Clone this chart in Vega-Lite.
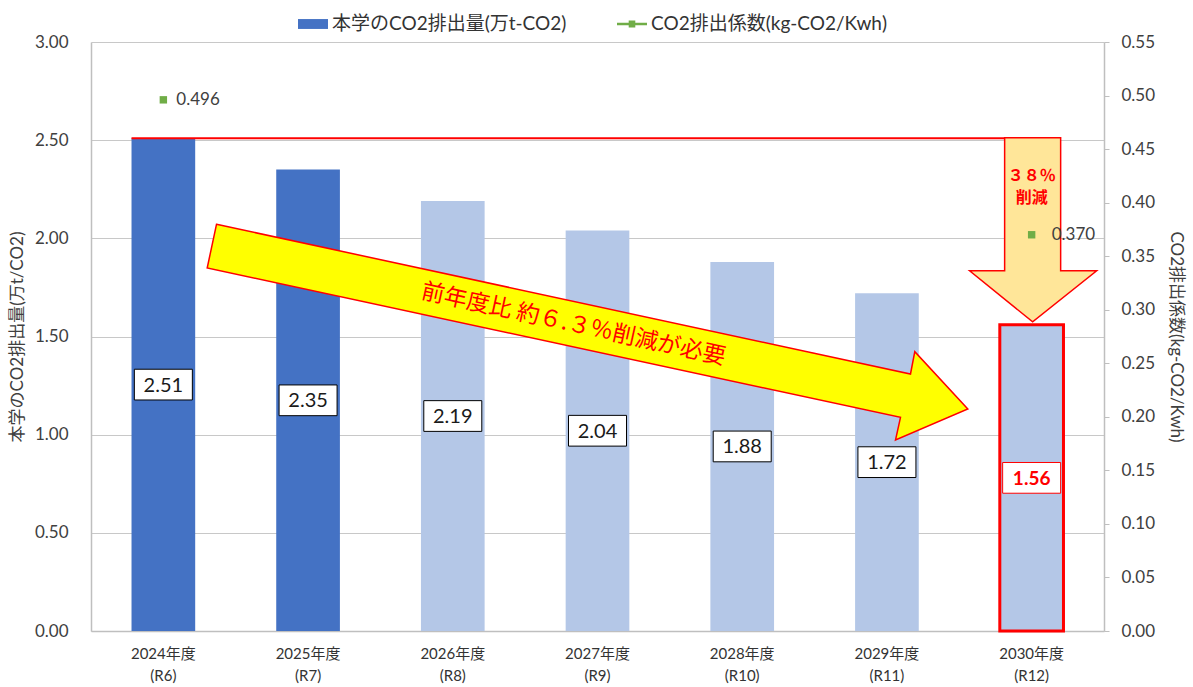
{
  "$schema": "https://vega.github.io/schema/vega-lite/v6.json",
  "width": 1013,
  "height": 589,
  "autosize": {"type": "none"},
  "padding": {"left": 91, "top": 42, "right": 89, "bottom": 56},
  "background": "white",
  "config": {
    "view": {"stroke": null},
    "font": "Lato, Noto Sans CJK JP",
    "axis": {
      "labelFont": "Lato, Noto Sans CJK JP",
      "titleFont": "Lato, Noto Sans CJK JP",
      "labelColor": "#404040",
      "titleColor": "#404040",
      "titleFontWeight": "normal",
      "labelFontSize": 17,
      "titleFontSize": 17
    },
    "legend": {"labelFont": "Lato, Noto Sans CJK JP"}
  },
  "datasets": {
    "bars": [
      {"year": "2024年度|(R6)", "emission": 2.51, "status": "実績"},
      {"year": "2025年度|(R7)", "emission": 2.35, "status": "実績"},
      {"year": "2026年度|(R8)", "emission": 2.19, "status": "計画"},
      {"year": "2027年度|(R9)", "emission": 2.04, "status": "計画"},
      {"year": "2028年度|(R10)", "emission": 1.88, "status": "計画"},
      {"year": "2029年度|(R11)", "emission": 1.72, "status": "計画"},
      {"year": "2030年度|(R12)", "emission": 1.56, "status": "計画"}
    ],
    "coef": [
      {"year": "2024年度|(R6)", "coef": 0.496},
      {"year": "2030年度|(R12)", "coef": 0.370}
    ]
  },
  "encoding": {
    "x": {
      "field": "year",
      "type": "nominal",
      "scale": {
        "domain": ["2024年度|(R6)", "2025年度|(R7)", "2026年度|(R8)", "2027年度|(R9)", "2028年度|(R10)", "2029年度|(R11)", "2030年度|(R12)"],
        "paddingInner": 0.56,
        "paddingOuter": 0.28
      },
      "axis": {
        "title": null,
        "labelExpr": "split(datum.label, '|')",
        "labelFontSize": 15,
        "labelLineHeight": 22,
        "labelPadding": 15,
        "labelAngle": 0,
        "ticks": false,
        "domainColor": "#BFBFBF",
        "domainWidth": 1.5,
        "labelColor": "#333333"
      }
    }
  },
  "layer": [
    {
      "data": {"name": "bars"},
      "mark": {"type": "bar", "strokeWidth": 3},
      "encoding": {
        "y": {
          "field": "emission",
          "type": "quantitative",
          "scale": {"domain": [0, 3]},
          "axis": {
            "orient": "left",
            "values": [0, 0.5, 1, 1.5, 2, 2.5, 3],
            "format": ".2f",
            "grid": true,
            "gridColor": "#C8C8C8",
            "gridWidth": 1.2,
            "domain": true,
            "domainColor": "#BFBFBF",
            "domainWidth": 1.5,
            "ticks": false,
            "labelPadding": 23,
            "title": "本学のCO2排出量(万t/CO2)",
            "titlePadding": 8
          }
        },
        "color": {"condition": {"test": "datum.status === '実績'", "value": "#4472C4"}, "value": "#B4C7E7"},
        "stroke": {"condition": {"test": "datum.year === '2030年度|(R12)'", "value": "#FF0000"}, "value": "transparent"}
      }
    },
    {
      "data": {"name": "bars"},
      "mark": {"type": "point", "shape": "M-1,-0.53L1,-0.53L1,0.53L-1,0.53Z", "size": 3364, "filled": true, "fill": "white", "strokeWidth": 1, "opacity": 1},
      "encoding": {
        "y": {"field": "emission", "type": "quantitative", "scale": {"domain": [0, 6]}, "axis": null},
        "stroke": {"condition": {"test": "datum.year === '2030年度|(R12)'", "value": "#FF0000"}, "value": "#000000"}
      }
    },
    {
      "data": {"name": "bars"},
      "transform": [{"filter": "datum.year !== '2030年度|(R12)'"}],
      "mark": {"type": "text", "fontSize": 20, "align": "center", "baseline": "middle", "dy": 1, "color": "#1a1a1a"},
      "encoding": {
        "y": {"field": "emission", "type": "quantitative", "scale": {"domain": [0, 6]}, "axis": null},
        "text": {"field": "emission", "type": "quantitative", "format": ".2f"}
      }
    },
    {
      "data": {"name": "bars"},
      "transform": [{"filter": "datum.year === '2030年度|(R12)'"}],
      "mark": {"type": "text", "fontSize": 19, "fontWeight": "bold", "align": "center", "baseline": "middle", "dy": 1, "color": "#FF0000"},
      "encoding": {
        "y": {"field": "emission", "type": "quantitative", "scale": {"domain": [0, 6]}, "axis": null},
        "text": {"field": "emission", "type": "quantitative", "format": ".2f"}
      }
    },
    {
      "data": {"values": [{"year": "2024年度|(R6)", "to": "2030年度|(R12)", "level": 2.51}]},
      "mark": {"type": "rule", "color": "#FF0000", "strokeWidth": 2},
      "encoding": {
        "x": {"field": "year", "type": "nominal", "bandPosition": 0},
        "x2": {"field": "to"},
        "y": {"field": "level", "type": "quantitative", "scale": {"domain": [0, 3]}, "axis": null}
      }
    },
    {
      "data": {"values": [{"year": "2030年度|(R12)", "anchor": 2.0}]},
      "mark": {"type": "point", "shape": "M-27,-100.5L29,-100.5L29,32.5L65,32.5L1,83.5L-62,32.5L-27,32.5Z", "size": 4, "filled": true, "fill": "#FFE699", "stroke": "#FF0000", "strokeWidth": 1.5, "opacity": 1},
      "encoding": {
        "y": {"field": "anchor", "type": "quantitative", "scale": {"domain": [0, 3]}, "axis": null}
      }
    },
    {
      "data": {"values": [{"year": "2030年度|(R12)", "anchor": 2.318, "label": "３８％"}, {"year": "2030年度|(R12)", "anchor": 2.205, "label": "削減"}]},
      "mark": {"type": "text", "color": "#FF0000", "fontWeight": "bold", "fontSize": 16, "align": "center", "baseline": "middle", "font": "Noto Sans CJK JP"},
      "encoding": {
        "y": {"field": "anchor", "type": "quantitative", "scale": {"domain": [0, 3]}, "axis": null},
        "text": {"field": "label", "type": "nominal"}
      }
    },
    {
      "data": {"values": [{"year": "2027年度|(R9)", "anchor": 1.5}]},
      "mark": {"type": "point", "shape": "M-381,-112.2L313,37.5L317.3,15.2L370.3,72.5L298,103.5L303,80.8L-390.3,-68.5Z", "size": 4, "filled": true, "fill": "#FFFF00", "stroke": "#FF0000", "strokeWidth": 1.5, "opacity": 1},
      "encoding": {
        "y": {"field": "anchor", "type": "quantitative", "scale": {"domain": [0, 3]}, "axis": null}
      }
    },
    {
      "data": {"values": [{"year": "2027年度|(R9)", "anchor": 1.534}]},
      "mark": {"type": "text", "text": "前年度比 約６.３％削減が必要", "color": "#FF0000", "fontSize": 23, "angle": 12.4, "dx": -24.6, "align": "center", "baseline": "middle", "font": "Noto Sans CJK JP"},
      "encoding": {
        "y": {"field": "anchor", "type": "quantitative", "scale": {"domain": [0, 3]}, "axis": null}
      }
    },
    {
      "data": {"name": "coef"},
      "mark": {"type": "point", "shape": "square", "filled": true, "size": 55, "color": "#70AD47", "opacity": 1},
      "encoding": {
        "y": {
          "field": "coef",
          "type": "quantitative",
          "scale": {"domain": [0, 0.55]},
          "axis": {
            "orient": "right",
            "values": [0, 0.05, 0.1, 0.15, 0.2, 0.25, 0.3, 0.35, 0.4, 0.45, 0.5, 0.55],
            "format": ".2f",
            "grid": false,
            "ticks": true,
            "tickSize": 5,
            "tickColor": "#BFBFBF",
            "domainColor": "#BFBFBF",
            "domainWidth": 1.5,
            "labelPadding": 12,
            "title": "CO2排出係数(kg-CO2/Kwh)",
            "titlePadding": 12
          }
        }
      }
    },
    {
      "data": {"name": "coef"},
      "transform": [{"filter": "datum.year === '2024年度|(R6)'"}],
      "mark": {"type": "text", "align": "left", "baseline": "middle", "dx": 13, "fontSize": 17, "color": "#404040"},
      "encoding": {
        "y": {"field": "coef", "type": "quantitative", "scale": {"domain": [0, 0.55]}, "axis": null},
        "text": {"field": "coef", "type": "quantitative", "format": ".3f"}
      }
    },
    {
      "data": {"name": "coef"},
      "transform": [{"filter": "datum.year === '2030年度|(R12)'"}],
      "mark": {"type": "text", "align": "left", "baseline": "middle", "dx": 20, "fontSize": 17, "color": "#404040"},
      "encoding": {
        "y": {"field": "coef", "type": "quantitative", "scale": {"domain": [0, 0.55]}, "axis": null},
        "text": {"field": "coef", "type": "quantitative", "format": ".3f"}
      }
    },
    {
      "data": {"values": [{"series": "本学のCO2排出量(万t-CO2)"}, {"series": "CO2排出係数(kg-CO2/Kwh)"}]},
      "transform": [{"filter": "false"}],
      "mark": {"type": "point", "filled": true, "opacity": 1},
      "encoding": {
        "x": {"value": 0},
        "y": {"value": 0},
        "color": {
          "field": "series",
          "type": "nominal",
          "scale": {"domain": ["本学のCO2排出量(万t-CO2)", "CO2排出係数(kg-CO2/Kwh)"], "range": ["#4472C4", "#70AD47"]},
          "legend": {
            "orient": "none",
            "legendX": 207,
            "legendY": -33,
            "direction": "horizontal",
            "title": null,
            "symbolSize": 900,
            "symbolStrokeWidth": 0,
            "labelFontSize": 19,
            "labelLimit": 400,
            "labelOffset": 4,
            "columnPadding": 50,
            "padding": 0,
            "labelColor": "#333333"
          }
        },
        "shape": {
          "field": "series",
          "type": "nominal",
          "scale": {
            "domain": ["本学のCO2排出量(万t-CO2)", "CO2排出係数(kg-CO2/Kwh)"],
            "range": ["M-1,-0.33L1,-0.33L1,0.33L-1,0.33Z", "M-1,-0.09L1,-0.09L1,0.09L-1,0.09Z M-0.22,-0.24L0.22,-0.24L0.22,0.24L-0.22,0.24Z"]
          }
        }
      }
    }
  ],
  "resolve": {"scale": {"y": "independent", "color": "independent", "shape": "independent"}}
}
